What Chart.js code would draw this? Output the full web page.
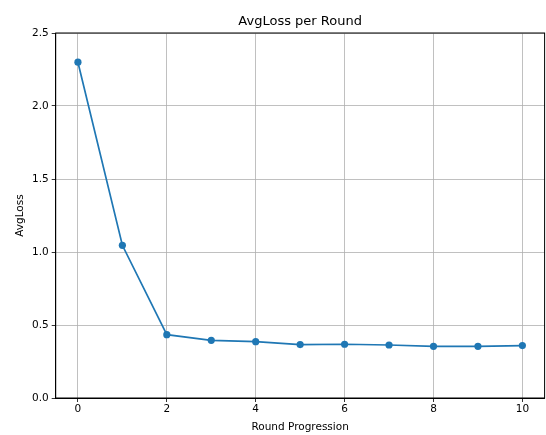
<!DOCTYPE html>
<html>
<head>
<meta charset="utf-8">
<script src="https://cdn.jsdelivr.net/npm/chart.js@4/dist/chart.umd.min.js"></script>
<style>
  body { margin: 0; background: #fff; }
  #wrap { width: 546px; height: 435px; }
</style>
</head>
<body>
<div id="wrap"><canvas id="lossChart" width="546" height="435"></canvas></div>
<script>
// values
var rounds = [0, 1, 2, 3, 4, 5, 6, 7, 8, 9, 10];
var avgLoss = [2.30, 1.046, 0.434, 0.395, 0.386, 0.366, 0.368, 0.363, 0.354, 0.354, 0.359];
var xTicks = [0, 2, 4, 6, 8, 10];
var yTicks = [0.0, 0.5, 1.0, 1.5, 2.0, 2.5];

Chart.defaults.font.family = "'DejaVu Sans', sans-serif";
Chart.defaults.color = '#000';

// black frame round the plot area, like the matplotlib spines
var frame = {
    id: 'frame',
    afterDraw: function(chart) {
        var a = chart.chartArea;
        var c = chart.ctx;
        c.save();
        c.strokeStyle = '#000';
        c.lineWidth = 1;
        c.strokeRect(a.left, a.top, a.right - a.left, a.bottom - a.top);
        c.restore();
    }
};

function noPad(s) {
    s.paddingLeft = 0;
    s.paddingRight = 0;
    s.paddingTop = 0;
    s.paddingBottom = 0;
}

var points = rounds.map(function(r, i) { return { x: r, y: avgLoss[i] }; });

var ctx = document.getElementById('lossChart').getContext('2d');
var lossChart = new Chart(ctx, {
    type: 'line',
    data: {
        datasets: [{
            label: 'AvgLoss',
            data: points,
            borderColor: '#1f77b4',
            backgroundColor: '#1f77b4',
            borderWidth: 1.7,
            pointRadius: 3.6,
            pointHoverRadius: 3.6,
            pointBorderWidth: 0,
            tension: 0,
            fill: false
        }]
    },
    options: {
        responsive: false,
        animation: false,
        events: [],
        layout: { autoPadding: false, padding: { left: 0, right: 1.4, top: 0, bottom: 0 } },
        plugins: {
            legend: { display: false },
            tooltip: { enabled: false },
            title: {
                display: true,
                text: 'AvgLoss per Round',
                fullSize: false,
                font: { size: 13, weight: 'normal' },
                padding: { top: 14, bottom: 3.4 }
            }
        },
        scales: {
            x: {
                type: 'linear',
                min: -0.5,
                max: 10.5,
                afterBuildTicks: function(s) { s.ticks = xTicks.map(function(v) { return { value: v }; }); },
                afterFit: function(s) { s.height = 37; noPad(s); },
                grid: { color: '#b0b0b0', lineWidth: 0.8, tickColor: '#000', tickLength: 4 },
                border: { color: '#000', width: 1 },
                ticks: { font: { size: 10.5 }, padding: 1, maxRotation: 0 },
                title: { display: true, text: 'Round Progression', font: { size: 10.5 }, padding: { top: 0, bottom: 1 } }
            },
            y: {
                min: 0,
                max: 2.5,
                afterBuildTicks: function(s) { s.ticks = yTicks.map(function(v) { return { value: v }; }); },
                afterFit: function(s) { s.width = 55.7; noPad(s); },
                grid: { color: '#b0b0b0', lineWidth: 0.8, tickColor: '#000', tickLength: 4 },
                border: { color: '#000', width: 1 },
                ticks: { font: { size: 10.5 }, padding: 3, callback: function(v) { return v.toFixed(1); } },
                title: { display: true, text: 'AvgLoss', font: { size: 10.5 }, padding: { top: 14, bottom: 0 } }
            }
        }
    },
    plugins: [frame]
});
</script>
</body>
</html>
